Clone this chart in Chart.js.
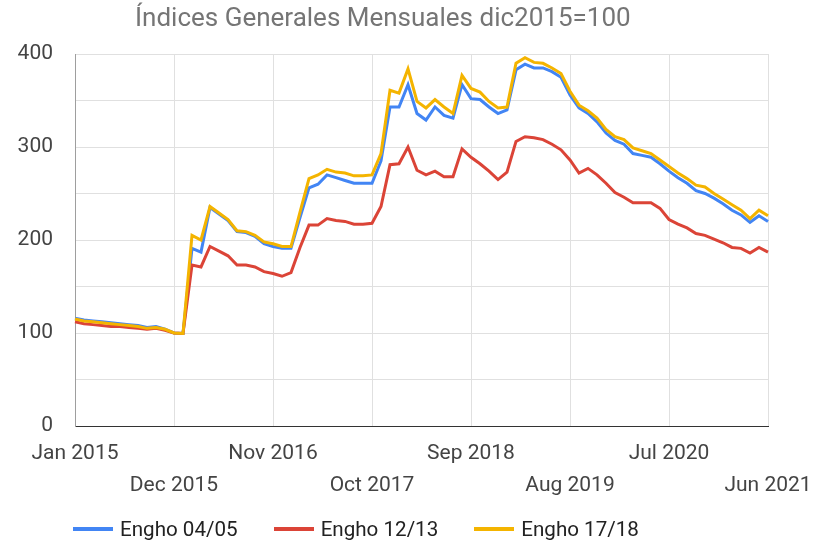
<!DOCTYPE html>
<html>
<head>
<meta charset="utf-8">
<script src="https://cdn.jsdelivr.net/npm/chart.js@4.4.1/dist/chart.umd.min.js"></script>
<style>
  html, body { margin: 0; padding: 0; background: #fff; }
  #wrap { position: relative; width: 816px; height: 544px; }
  #title { position: absolute; left: 135px; top: 2px; font: 26px Roboto, sans-serif; color: #757575; white-space: nowrap; }
  #legend { position: absolute; left: 73px; top: 517px; display: flex; font: 20.6px Roboto, sans-serif; color: #222; white-space: nowrap; }
  #legend .item { display: flex; align-items: center; margin-right: 36px; }
  #legend .bar { width: 40px; height: 4px; margin-right: 7px; }
</style>
</head>
<body>
<div id="wrap">
  <div id="title">Índices Generales Mensuales dic2015=100</div>
  <canvas id="chart" width="816" height="544"></canvas>
  <div id="legend"></div>
</div>
<script>
const monthNames = ['Jan','Feb','Mar','Apr','May','Jun','Jul','Aug','Sep','Oct','Nov','Dec'];
// Jan 2015 .. Jun 2021, monthly
const labels = [];
for (let y = 2015; y <= 2021; y++) {
  for (let m = 0; m < 12; m++) {
    if (y === 2021 && m > 5) break;
    labels.push(monthNames[m] + ' ' + y);
  }
}
const tickLabels = ['Jan 2015','Dec 2015','Nov 2016','Oct 2017','Sep 2018','Aug 2019','Jul 2020','Jun 2021'];

const seriesNames = ['Engho 04/05', 'Engho 12/13', 'Engho 17/18'];
const seriesColors = ['#4285f4', '#db4437', '#f4b400'];

const engho0405 = [116,114,113,112,111,110,109,108,106,107,104,100,99.5,
  191,187,235,228,221,209,208,204,196,193,191,191,224,256,260,270,267,264,261,261,261,
  285,343,343,367,336,329,343,334,331,367,352,351,343,336,340,383,389,385,385,381,375,356,
  342,336,327,315,307,303,293,291,289,282,274,267,261,253,250,245,239,232,227,219,226,220];
const engho1213 = [112,110,109,108,107,107,106,105,104,105,103,100,99.5,
  173,171,193,188,183,173,173,171,166,164,161,165,192,216,216,223,221,220,217,217,218,
  236,281,282,300,275,270,274,268,268,298,289,282,274,265,273,306,311,310,308,303,297,286,
  272,277,270,261,251,246,240,240,240,234,222,217,213,207,205,201,197,192,191,186,192,187];
const engho1718 = [115,113,112,111,110,109,108,107,105,106,104,100,99.5,
  205,200,236,229,222,210,209,205,198,196,193,193,230,266,270,276,273,272,269,269,270,
  293,361,358,384,349,342,351,343,336,377,363,359,349,342,343,390,396,391,390,385,379,360,
  345,339,331,319,311,308,299,296,293,286,279,272,266,259,257,250,244,238,232,223,232,226];

const seriesData = [engho0405, engho1213, engho1718];

Chart.defaults.font.family = 'Roboto, sans-serif';
Chart.defaults.font.size = 21;

const ctx = document.getElementById('chart').getContext('2d');
const chart = new Chart(ctx, {
  type: 'line',
  data: {
    labels: labels,
    datasets: seriesData.map((d, i) => ({
      label: seriesNames[i],
      data: d,
      borderColor: seriesColors[i],
      backgroundColor: seriesColors[i],
      borderWidth: 3,
      pointRadius: 0,
      tension: 0,
      order: 2 - i // yellow on top
    }))
  },
  options: {
    responsive: false,
    animation: false,
    layout: { padding: { top: 54, right: 48, bottom: 32, left: 0 } },
    plugins: {
      legend: { display: false },
      title: { display: false },
      tooltip: { enabled: false }
    },
    scales: {
      x: {
        afterFit: (s) => { s.height = 86; s.paddingLeft = 0; s.paddingRight = 0; },
        border: { display: true, color: '#333', width: 1 },
        grid: {
          drawTicks: false,
          color: (c) => (c.index % 11 === 0 && c.index > 0) ? '#e0e0e0' : 'rgba(0,0,0,0)'
        },
        ticks: {
          autoSkip: false,
          maxRotation: 0,
          padding: 12,
          color: '#444',
          font: { size: 21, lineHeight: 1.5 },
          callback: function (value, index) {
            const lab = labels[index];
            if (!tickLabels.includes(lab)) return '';
            return (index / 11) % 2 === 1 ? ['', lab] : lab;
          }
        }
      },
      y: {
        min: 0,
        max: 400,
        afterFit: (s) => { s.width = 75; },
        border: { display: true, color: '#9e9e9e', width: 1 },
        grid: { drawTicks: false, color: '#e0e0e0' },
        ticks: {
          stepSize: 50,
          padding: 22,
          color: '#444',
          font: { size: 21 },
          callback: (v) => (v % 100 === 0 ? v : '')
        }
      }
    }
  }
});

// legend
const legendEl = document.getElementById('legend');
seriesNames.forEach((name, i) => {
  const item = document.createElement('div');
  item.className = 'item';
  const bar = document.createElement('span');
  bar.className = 'bar';
  bar.style.background = seriesColors[i];
  const txt = document.createElement('span');
  txt.textContent = name;
  item.appendChild(bar);
  item.appendChild(txt);
  legendEl.appendChild(item);
});
</script>
</body>
</html>
